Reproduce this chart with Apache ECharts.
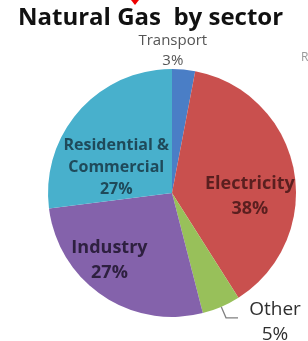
<!DOCTYPE html>
<html>
<head>
<meta charset="utf-8">
<script src="https://cdn.jsdelivr.net/npm/echarts@6/dist/echarts.min.js"></script>
<style>
  html, body { margin: 0; padding: 0; background: #fff; }
  #chart { width: 308px; height: 341px; }
</style>
</head>
<body>
<div id="chart"></div>
<script>
// sector shares, clockwise from 12 o'clock
const sectors = ['Transport', 'Electricity', 'Other', 'Industry', 'Residential &\nCommercial'];
const shares = [3, 38, 5, 27, 27];
const sliceColors = ['#4a7ec6', '#c9504e', '#98c05a', '#8462ab', '#48b0cc'];
const labelColors = ['#555555', '#5a1f1f', '#2f2f2f', '#2e2040', '#1f4a5a'];
const labelSizes = [15, 18, 19, 18, 16];
const labelHeights = [20, 25, 25, 25, 22];
// small nudges from where echarts puts each label
const labelNudges = [[-29, -7], [14, 16], [32, 4], [-26, 14], [-7, 17]];

const chart = echarts.init(document.getElementById('chart'), null, { renderer: 'canvas' });

const outside = { Transport: true, Other: true };

chart.setOption({
  animation: false,
  title: {
    text: 'Natural Gas  by sector',
    left: 13,
    top: 1,
    textStyle: { fontFamily: 'Open Sans', fontWeight: 'bold', fontSize: 24, color: '#111' },
  },
  graphic: [
    { type: 'polygon', shape: { points: [[131, 0], [139, 0], [135, 5]] }, style: { fill: '#e00' } },
    { type: 'text', x: 301, y: 52, style: { text: 'R', fontSize: 12, fontFamily: 'Open Sans', fill: '#999' } },
  ],
  series: [
    {
      type: 'pie',
      center: [172, 193],
      radius: 124,
      startAngle: 90,
      clockwise: true,
      silent: true,
      avoidLabelOverlap: false,
      data: sectors.map((name, i) => ({
        name,
        value: shares[i],
        itemStyle: { color: sliceColors[i] },
        label: {
          position: outside[name] ? 'outside' : 'inside',
          color: labelColors[i],
          fontSize: labelSizes[i],
          lineHeight: labelHeights[i],
          fontWeight: outside[name] ? 'normal' : 'bold',
        },
        labelLine: { show: name === 'Other', lineStyle: { color: '#808080', width: 1.3 } },
      })),
      label: {
        fontFamily: 'Open Sans',
        formatter: (p) => `${p.name}\n${p.value}%`,
        align: 'center',
        overflow: 'none',
      },
      labelLine: { length: 12, length2: 12 },
      labelLayout: (p) => ({
        dx: labelNudges[p.dataIndex][0],
        dy: labelNudges[p.dataIndex][1],
        align: 'center',
      }),
    },
  ],
});
</script>
</body>
</html>
